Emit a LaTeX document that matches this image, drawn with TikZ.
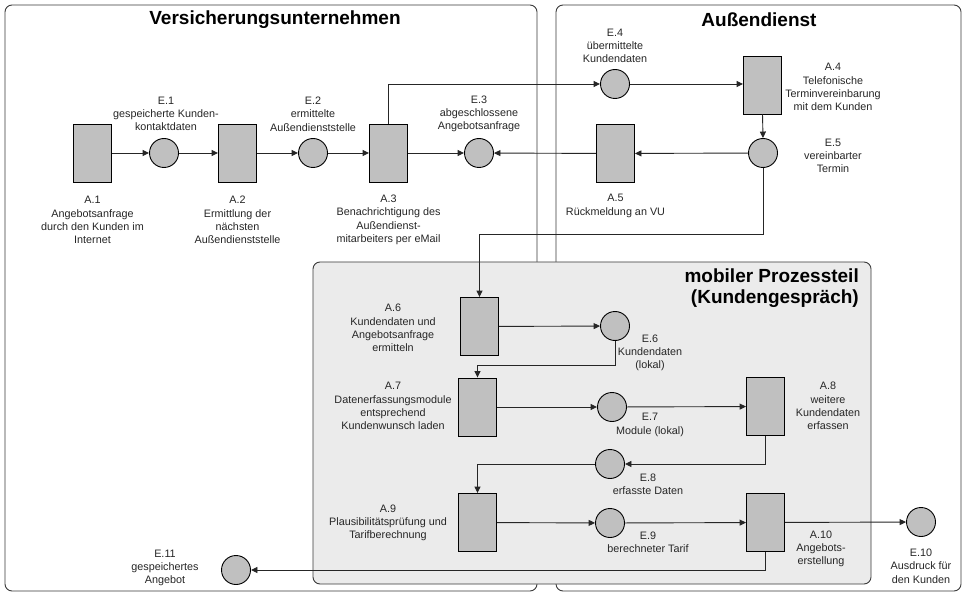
\documentclass[tikz,border=0pt]{standalone}
\usepackage{fontspec}
\setmainfont{Liberation Sans}
\usetikzlibrary{arrows.meta}
\definecolor{boxgray}{HTML}{C0C0C0}
\definecolor{mobfill}{HTML}{EBEBEB}
\definecolor{edgegray}{HTML}{3A3A3A}
\begin{document}
\begin{tikzpicture}[x=1pt,y=-1pt,
  act/.style={draw=black, fill=boxgray, minimum width=38pt, minimum height=58pt, inner sep=0pt, line width=0.9pt},
  ev/.style={draw=black, fill=boxgray, circle, minimum size=29pt, inner sep=0pt, line width=0.9pt},
  lbl/.style={align=center, font=\fontsize{10.8}{13.3}\selectfont, inner sep=0pt, text=black!85},
  flow/.style={line width=0.9pt, draw=black!85, -{Triangle[length=6.5pt,width=6pt]}},
  lane/.style={draw=edgegray, rounded corners=7pt, line width=0.9pt},
  ttl/.style={font=\fontsize{19}{21}\selectfont\bfseries, inner sep=0pt, align=right}
]
\useasboundingbox (0,0) rectangle (965,593);
\fill[white] (0,0) rectangle (965,593);

% lanes
\draw[lane] (5,5) rectangle (537,591);
\draw[lane] (556,5) rectangle (961,591);
\draw[lane, fill=mobfill] (313,262) rectangle (871,584);

% titles
\node[ttl] (t1) at (275,20) {Versicherungsunternehmen};
\node[ttl] (t2) at (759,20) {Außendienst};
\node[ttl, anchor=east] (t3) at (859,288) {mobiler Prozessteil\\(Kundengespräch)};

% activities
\node[act] (A1) at (92.5,153) {};
\node[act] (A2) at (237.5,153) {};
\node[act] (A3) at (388.5,153) {};
\node[act] (A4) at (762.5,85) {};
\node[act] (A5) at (615.5,153.5) {};
\node[act] (A6) at (479.5,326.5) {};
\node[act] (A7) at (477.5,407) {};
\node[act] (A8) at (765.5,406.5) {};
\node[act] (A9) at (477.5,522.5) {};
\node[act] (A10) at (765.5,522.5) {};

% events
\node[ev] (E1) at (164,153) {};
\node[ev] (E2) at (313,153) {};
\node[ev] (E3) at (479,153) {};
\node[ev] (E4) at (615,84) {};
\node[ev] (E5) at (763,153) {};
\node[ev] (E6) at (615,326) {};
\node[ev] (E7) at (612,407) {};
\node[ev] (E8) at (610,464) {};
\node[ev] (E9) at (610,523) {};
\node[ev] (E10) at (921,522) {};
\node[ev] (E11) at (236,570) {};

% labels
\node[lbl] (lA1) at (92.5,220) {A.1\\Angebotsanfrage\\durch den Kunden im\\Internet};
\node[lbl] (lA2) at (237.5,220) {A.2\\Ermittlung der\\nächsten\\Außendienststelle};
\node[lbl] (lA3) at (388.5,220) {A.3\\Benachrichtigung des\\Außendienst-\\mitarbeiters per eMail};
\node[lbl] (lE1) at (166,114) {E.1\\gespeicherte Kunden-\\kontaktdaten};
\node[lbl] (lE2) at (313,114) {E.2\\ermittelte\\Außendienststelle};
\node[lbl] (lE3) at (479,114) {E.3\\abgeschlossene\\Angebotsanfrage};
\node[lbl] (lE4) at (615,46) {E.4\\übermittelte\\Kundendaten};
\node[lbl] (lA4) at (833,87) {A.4\\Telefonische\\Terminvereinbarung\\mit dem Kunden};
\node[lbl] (lE5) at (833,156) {E.5\\vereinbarter\\Termin};
\node[lbl] (lA5) at (615.5,206) {A.5\\Rückmeldung an VU};
\node[lbl] (lA6) at (393,328) {A.6\\Kundendaten und\\Angebotsanfrage\\ermitteln};
\node[lbl] (lE6) at (650,353) {E.6\\Kundendaten\\(lokal)};
\node[lbl] (lA7) at (393,406) {A.7\\Datenerfassungsmodule\\entsprechend\\Kundenwunsch laden};
\node[lbl] (lE7) at (650,425) {E.7\\Module (lokal)};
\node[lbl] (lA8) at (828,406) {A.8\\weitere\\Kundendaten\\erfassen};
\node[lbl] (lE8) at (648,484) {E.8\\erfasste Daten};
\node[lbl] (lA9) at (388,523) {A.9\\Plausibilitätsprüfung und\\Tarifberechnung};
\node[lbl] (lE9) at (648,542) {E.9\\berechneter Tarif};
\node[lbl] (lA10) at (821,549) {A.10\\Angebots-\\erstellung};
\node[lbl] (lE10) at (921,566) {E.10\\Ausdruck für\\den Kunden};
\node[lbl] (lE11) at (165,568) {E.11\\gespeichertes\\Angebot};

% helper coordinates
\coordinate (k1) at (0,234);
\coordinate (k2) at (0,365);

% connectors
\draw[flow] (A1) -- (E1);
\draw[flow] (E1) -- (A2);
\draw[flow] (A2) -- (E2);
\draw[flow] (E2) -- (A3);
\draw[flow] (A3) -- (E3);
\draw[flow] (A3.north) |- (E4.west);
\draw[flow] (E4) -- (A4.west |- E4);
\draw[flow] (A4.south) -- (E5.north);
\draw[flow] (E5) -- (A5);
\draw[flow] (A5) -- (E3);
\draw[flow] (E5.south) -- (E5.south |- k1) -| (A6.north);
\draw[flow] (A6) -- (E6);
\draw[flow] (E6.south) -- (E6.south |- k2) -| (A7.north);
\draw[flow] (A7) -- (E7);
\draw[flow] (E7) -- (A8);
\draw[flow] (A8.south) |- (E8.east);
\draw[flow] (E8.west) -| (A9.north);
\draw[flow] (A9) -- (E9);
\draw[flow] (E9) -- (A10);
\draw[flow] (A10) -- (E10);
\draw[flow] (A10.south) |- (E11.east);
\end{tikzpicture}
\end{document}
